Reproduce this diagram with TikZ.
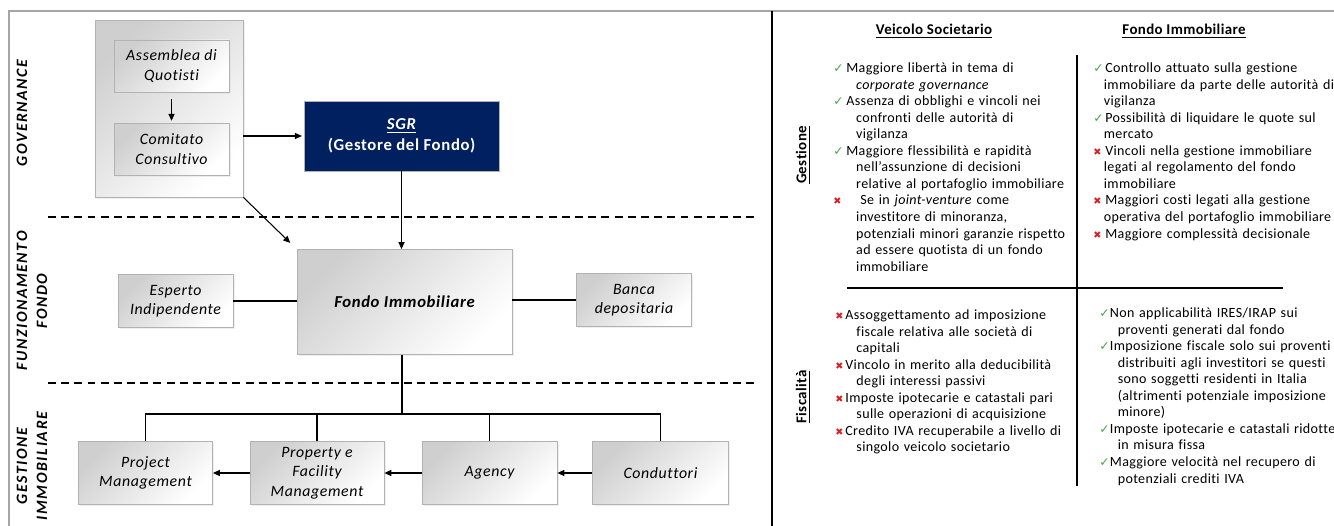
\documentclass[tikz,border=0pt]{standalone}
\usepackage{fontspec}
\setmainfont{Carlito}
\newfontfamily\markfont{DejaVu Sans}
\newfontfamily\boxfont[LetterSpace=4, Ligatures=CommonOff]{Carlito}
\newfontfamily\bandfont[LetterSpace=10]{Carlito}
\newfontfamily\tabfont[LetterSpace=2.5, Ligatures=CommonOff]{Carlito}
\usetikzlibrary{arrows.meta, shadows}

\definecolor{sgrblue}{RGB}{0,32,96}
\definecolor{okgreen}{RGB}{70,165,75}
\definecolor{nored}{RGB}{220,30,35}
\definecolor{framegray}{RGB}{165,165,165}

\newlength\markw
\newlength\hangw
\newcommand\pro{\par\hangindent=\hangw\hangafter=1\noindent\makebox[\markw][l]{\textcolor{okgreen}{\markfont\fontsize{7}{7}\selectfont ✓}}}
\newcommand\con{\par\hangindent=\hangw\hangafter=1\noindent\makebox[\markw][l]{\textcolor{nored}{\markfont\fontsize{5.5}{5.5}\selectfont ✖}}}

\begin{document}
\begin{tikzpicture}[x=0.02cm, y=-0.02cm,
  box/.style={draw=gray!60, line width=0.5pt, top color=gray!38, bottom color=white,
    shading angle=45, drop shadow={shadow xshift=1pt, shadow yshift=-1pt, fill=gray!25},
    font=\boxfont\itshape\fontsize{9}{11}\selectfont, align=center, inner sep=0pt},
  link/.style={line width=0.6pt},
  arr/.style={link, -{Triangle[length=4pt, width=3.5pt]}},
  sep/.style={line width=1.1pt, dash pattern=on 4.5pt off 3pt},
  band/.style={rotate=90, font=\bandfont\bfseries\itshape\fontsize{9}{11.5}\selectfont, align=center},
  txt/.style={anchor=north west, inner sep=0pt, text width=6.5cm, font=\tabfont\fontsize{8}{9.4}\selectfont},
  hdr/.style={font=\tabfont\bfseries\fontsize{8.5}{10}\selectfont}]
  \useasboundingbox (0,0) rectangle (1334,526);

  % cornice e divisore
  \draw[framegray, line width=0.9pt] (9,526) -- (9,11) -- (1334,11);
  \draw[line width=1.2pt] (772,11) -- (772,526);

  % fasce
  \draw[sep] (48,217) -- (757,217);
  \draw[sep] (48,383) -- (757,383);
  \node[band] (gov) at (22,113) {GOVERNANCE};
  \node[band] (funz) at (32,301) {FUNZIONAMENTO\\FONDO};
  \node[band] (gest) at (32,466) {GESTIONE\\IMMOBILIARE};

  % governance
  \node[box, minimum width=2.96cm, minimum height=3.54cm] (gruppo) at (169,108.5) {};
  \node[box, minimum width=2.3cm, minimum height=1.04cm] (assemblea) at (171.5,66) {Assemblea di\\Quotisti};
  \node[box, minimum width=2.3cm, minimum height=1.04cm] (comitato) at (171.5,149) {Comitato\\Consultivo};
  \node[draw=gray!60, fill=sgrblue, text=white, minimum width=3.9cm, minimum height=1.4cm,
    align=center, font=\boxfont\bfseries\fontsize{9.5}{12}\selectfont] (sgr) at (401.5,136)
    {\textit{\underline{SGR}}\\(Gestore del Fondo)};

  % funzionamento fondo
  \node[box, minimum width=4.3cm, minimum height=2.1cm, font=\boxfont\bfseries\itshape\fontsize{9.5}{11}\selectfont] (fondo) at (404.5,302) {Fondo Immobiliare};
  \node[box, minimum width=2.3cm, minimum height=1.06cm] (esperto) at (175.5,301) {Esperto\\Indipendente};
  \node[box, minimum width=2.3cm, minimum height=1.06cm] (banca) at (634,300) {Banca\\depositaria};

  % gestione immobiliare
  \node[box, minimum width=2.68cm, minimum height=1.26cm] (project) at (145.5,473) {Project\\Management};
  \node[box, minimum width=2.68cm, minimum height=1.26cm] (property) at (317,473) {Property e\\Facility\\Management};
  \node[box, minimum width=2.7cm, minimum height=1.26cm] (agency) at (489.5,473) {Agency};
  \node[box, minimum width=2.72cm, minimum height=1.26cm] (conduttori) at (660.5,473) {Conduttori};
  \coordinate (bus) at (402,414);

  \draw[arr, shorten <=4pt, shorten >=1pt] (assemblea) -- (comitato);
  \draw[arr, shorten >=1pt] (sgr.west -| gruppo.east) -- (sgr.west);
  \draw[arr, shorten >=5pt] (gruppo.south east) -- (fondo.north west);
  \draw[arr] (sgr.south) -- (sgr.south |- fondo.north);
  \draw[link] (esperto.east) -- (esperto.east -| fondo.west);
  \draw[link] (banca.west -| fondo.east) -- (banca.west);
  \draw[link] (fondo.south -| bus) -- (bus);
  \draw[link] (project.north) -- (project.north |- bus) -- (conduttori.north |- bus) -- (conduttori.north);
  \draw[link] (property.north) -- (property.north |- bus);
  \draw[link] (agency.north) -- (agency.north |- bus);
  \draw[arr] (conduttori) -- (agency);
  \draw[arr] (agency) -- (property);
  \draw[arr] (property) -- (project);

  % tabella di confronto
  \node[hdr] (hdrV) at (934,31) {\underline{Veicolo Societario}};
  \node[hdr] (hdrF) at (1184,31) {\underline{Fondo Immobiliare}};
  \node[hdr, rotate=90] (rowG) at (803,155) {\underline{Gestione}};
  \node[hdr, rotate=90] (rowF) at (803,397) {\underline{Fiscalità}};
  \coordinate (crossT) at (1077,55);
  \coordinate (crossB) at (1077,486);
  \coordinate (crossL) at (847,288);
  \coordinate (crossR) at (1283,288);
  \draw[line width=0.8pt] (crossT) -- (crossB);
  \draw[line width=0.8pt] (crossL) -- (crossR);

  \node[txt] (gestV) at (833,56) {\setlength\markw{7.4pt}\setlength\hangw{13pt}%
    \pro Maggiore libertà in tema di\newline \textit{corporate governance}
    \pro Assenza di obblighi e vincoli nei\newline confronti delle autorità di\newline vigilanza
    \pro Maggiore flessibilità e rapidità\newline nell’assunzione di decisioni\newline relative al portafoglio immobiliare
    \con\hspace{8pt}Se in \textit{joint-venture} come\newline investitore di minoranza,\newline potenziali minori garanzie rispetto\newline ad essere quotista di un fondo\newline immobiliare\par};
  \node[txt] (gestF) at (1093,56) {\setlength\markw{6.8pt}\setlength\hangw{6pt}%
    \pro Controllo attuato sulla gestione\newline immobiliare da parte delle autorità di\newline vigilanza
    \pro Possibilità di liquidare le quote sul\newline mercato
    \con Vincoli nella gestione immobiliare\newline legati al regolamento del fondo\newline immobiliare
    \con Maggiori costi legati alla gestione\newline operativa del portafoglio immobiliare
    \con Maggiore complessità decisionale\par};
  \node[txt] (fiscV) at (835,303) {\setlength\markw{5.7pt}\setlength\hangw{12pt}%
    \con Assoggettamento ad imposizione\newline fiscale relativa alle società di\newline capitali
    \con Vincolo in merito alla deducibilità\newline degli interessi passivi
    \con Imposte ipotecarie e catastali pari\newline sulle operazioni di acquisizione
    \con Credito IVA recuperabile a livello di\newline singolo veicolo societario\par};
  \node[txt] (fiscF) at (1099,301) {\setlength\markw{6pt}\setlength\hangw{10.5pt}%
    \pro Non applicabilità IRES/IRAP sui\newline proventi generati dal fondo
    \pro Imposizione fiscale solo sui proventi\newline distribuiti agli investitori se questi\newline sono soggetti residenti in Italia\newline (altrimenti potenziale imposizione\newline minore)
    \pro Imposte ipotecarie e catastali ridotte\newline in misura fissa
    \pro Maggiore velocità nel recupero di\newline potenziali crediti IVA\par};
\end{tikzpicture}
\end{document}
